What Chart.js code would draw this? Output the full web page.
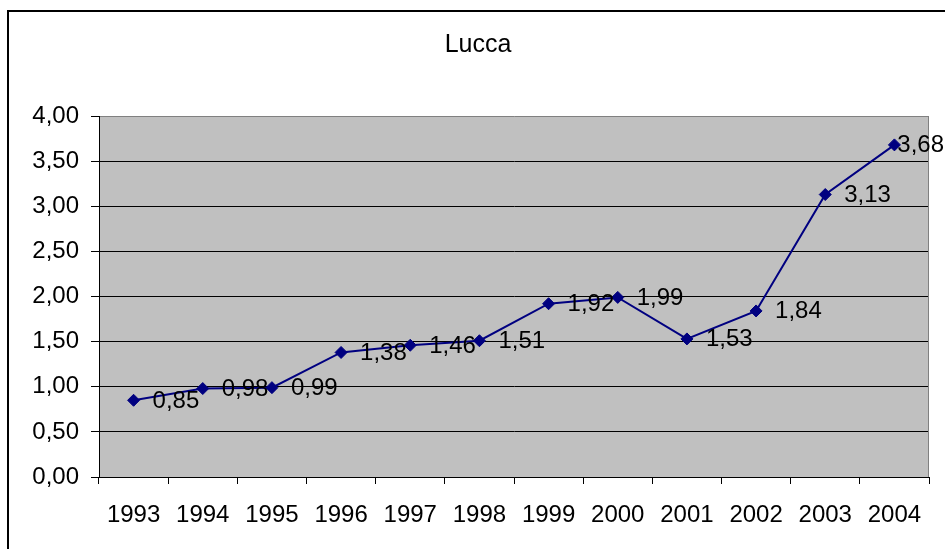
<!DOCTYPE html>
<html>
<head>
<meta charset="utf-8">
<script src="https://cdn.jsdelivr.net/npm/chart.js@4"></script>
<style>
html,body{margin:0;padding:0;background:#fff;overflow:hidden;}
#wrap{position:relative;width:945px;height:549px;}
</style>
</head>
<body>
<div id="wrap"><canvas id="c" width="945" height="549"></canvas></div>
<script>
const chartTitle = 'Lucca';
const categories = ['1993','1994','1995','1996','1997','1998','1999','2000','2001','2002','2003','2004'];
const values = [0.85, 0.98, 0.99, 1.38, 1.46, 1.51, 1.92, 1.99, 1.53, 1.84, 3.13, 3.68];
const yMin = 0, yMax = 4, yStep = 0.5;

const fmt = v => v.toFixed(2).replace('.', ',');
const FONT = '"Liberation Sans", Arial, sans-serif';

const decor = {
  id: 'decor',
  beforeDraw(chart) {
    const {ctx, chartArea: a} = chart;
    ctx.save();
    ctx.fillStyle = '#fff';
    ctx.fillRect(0, 0, chart.width, chart.height);
    ctx.strokeStyle = '#000';
    ctx.lineWidth = 2;
    ctx.strokeRect(8, 11, 1000, 1000);
    ctx.fillStyle = '#C0C0C0';
    ctx.fillRect(a.left, a.top, a.right - a.left, a.bottom - a.top);
    ctx.fillStyle = '#000';
    ctx.font = '25px ' + FONT;
    ctx.textAlign = 'center';
    ctx.textBaseline = 'alphabetic';
    ctx.fillText(chartTitle, 478, 51.5);
    ctx.restore();
  },
  beforeDatasetsDraw(chart) {
    const {ctx, chartArea: a} = chart;
    ctx.save();
    ctx.strokeStyle = '#808080';
    ctx.lineWidth = 1;
    ctx.beginPath();
    ctx.moveTo(a.right - 0.5, a.top);
    ctx.lineTo(a.right - 0.5, a.bottom);
    ctx.stroke();
    ctx.restore();
  },
  afterDatasetsDraw(chart) {
    const {ctx} = chart;
    const meta = chart.getDatasetMeta(0);
    ctx.save();
    ctx.fillStyle = '#000';
    ctx.font = '24px ' + FONT;
    ctx.textAlign = 'left';
    ctx.textBaseline = 'alphabetic';
    meta.data.forEach((pt, i) => {
      const txt = fmt(values[i]);
      const w = ctx.measureText(txt).width;
      let x = pt.x + 19;
      if (x + w > 944) x = 944 - w;
      ctx.fillText(txt, x, pt.y + 7.5);
    });
    ctx.restore();
  }
};

new Chart(document.getElementById('c'), {
  type: 'line',
  data: {
    labels: categories,
    datasets: [{
      data: values,
      borderColor: '#000080',
      backgroundColor: '#000080',
      borderWidth: 2,
      pointStyle: 'rectRot',
      pointRadius: 6,
      pointBorderWidth: 1,
      pointBorderColor: '#000080',
      pointBackgroundColor: '#000080',
      tension: 0,
      clip: false
    }]
  },
  options: {
    responsive: false,
    animation: false,
    devicePixelRatio: 1,
    layout: {padding: {left: 0, top: 116, right: 16, bottom: 0}},
    plugins: {legend: {display: false}, title: {display: false}, tooltip: {enabled: false}},
    scales: {
      x: {
        type: 'category',
        offset: true,
        grid: {offset: true, drawOnChartArea: false, drawTicks: true, tickLength: 7, tickColor: '#000', tickWidth: 1},
        border: {color: '#000', width: 1},
        ticks: {color: '#000', font: {family: FONT, size: 24}, padding: 17, maxRotation: 0, autoSkip: false},
        afterFit(s) { s.height = 72; }
      },
      y: {
        min: yMin, max: yMax,
        grid: {
          color: ctx => (ctx.tick && ctx.tick.value === yMax) ? '#808080' : '#000',
          lineWidth: 1, tickLength: 8, tickColor: '#000'
        },
        border: {color: '#000', width: 1},
        ticks: {stepSize: yStep, color: '#000', font: {family: FONT, size: 24}, padding: 12,
          callback: v => fmt(v)},
        afterFit(s) { s.width = 99; }
      }
    }
  },
  plugins: [decor]
});
</script>
</body>
</html>
